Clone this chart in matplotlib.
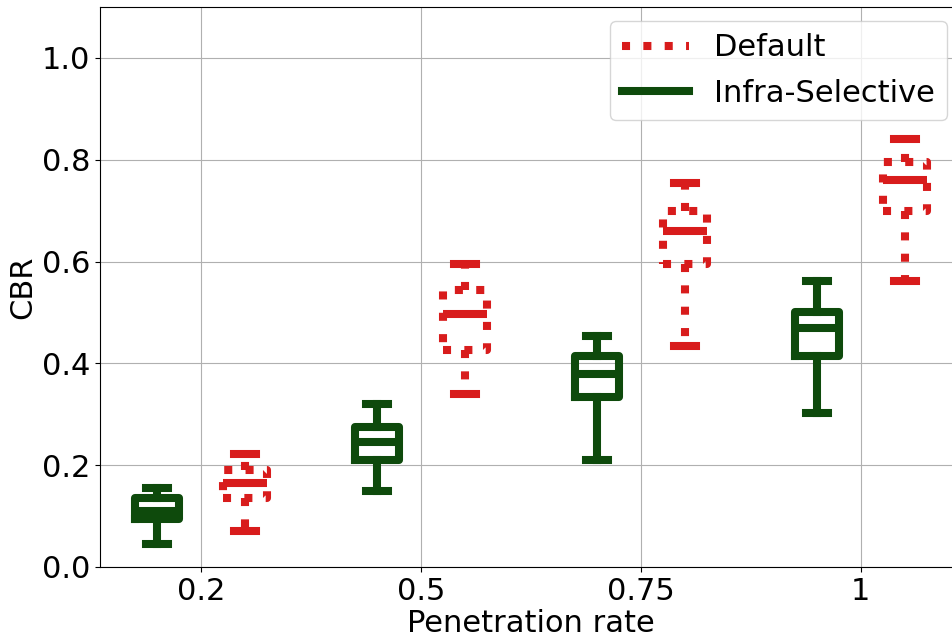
"""
CBR vs penetration rate: boxplots for Default and Infra-Selective schemes.
"""

import matplotlib

matplotlib.use("Agg")
import matplotlib.pyplot as plt
from matplotlib.lines import Line2D

# --- Data ---
rates = ["0.2", "0.5", "0.75", "1"]

# whisker low, q1, median, q3, whisker high
infra_low = [0.045, 0.150, 0.210, 0.302]
infra_q1 = [0.095, 0.210, 0.333, 0.415]
infra_med = [0.110, 0.245, 0.380, 0.470]
infra_q3 = [0.135, 0.275, 0.415, 0.500]
infra_high = [0.155, 0.320, 0.453, 0.562]

default_low = [0.070, 0.340, 0.435, 0.561]
default_q1 = [0.135, 0.427, 0.595, 0.700]
default_med = [0.165, 0.496, 0.660, 0.760]
default_q3 = [0.190, 0.545, 0.700, 0.795]
default_high = [0.222, 0.596, 0.755, 0.840]

RED = "#d81c1c"
GREEN = "#0e4a0c"
LW = 5.8
FS = 22


def make_stats(low, q1, med, q3, high):
    return [
        dict(whislo=a, q1=b, med=c, q3=d, whishi=e, fliers=[])
        for a, b, c, d, e in zip(low, q1, med, q3, high)
    ]


fig = plt.figure(figsize=(9.52, 6.39), dpi=100)
ax = fig.add_axes([100 / 952, 1 - 567 / 639, 862 / 952, 560 / 639])

pos = list(range(len(rates)))

# Infra-Selective (solid green)
green_kw = dict(color=GREEN, linewidth=LW, linestyle="-")
ax.bxp(
    make_stats(infra_low, infra_q1, infra_med, infra_q3, infra_high),
    positions=[p - 0.2 for p in pos],
    widths=0.2,
    capwidths=0.1,
    showfliers=False,
    boxprops=green_kw,
    whiskerprops=green_kw,
    capprops=green_kw,
    medianprops=green_kw,
    manage_ticks=False,
)

# Default (dotted red box/whiskers, solid caps and median)
red_dot = dict(color=RED, linewidth=LW, linestyle=":")
red_solid = dict(color=RED, linewidth=LW, linestyle="-")
ax.bxp(
    make_stats(default_low, default_q1, default_med, default_q3, default_high),
    positions=[p + 0.2 for p in pos],
    widths=0.2,
    capwidths=0.1,
    showfliers=False,
    boxprops=red_dot,
    whiskerprops=red_dot,
    capprops=red_solid,
    medianprops=red_solid,
    manage_ticks=False,
)

ax.set_xlim(-0.46, 3.46)
ax.set_ylim(0, 1.1)
ax.set_xticks(pos)
ax.set_xticklabels(rates)
ax.set_yticks([0.0, 0.2, 0.4, 0.6, 0.8, 1.0])
ax.tick_params(labelsize=FS)
ax.grid(True, color="#b0b0b0", linewidth=0.8)
ax.set_axisbelow(True)
ax.set_xlabel("Penetration rate", fontsize=FS, labelpad=2)
ax.set_ylabel("CBR", fontsize=FS, labelpad=3.5)

handles = [
    Line2D([], [], color=RED, linewidth=LW, linestyle=":"),
    Line2D([], [], color=GREEN, linewidth=LW, linestyle="-"),
]
ax.legend(
    handles,
    ["Default", "Infra-Selective"],
    fontsize=FS,
    loc="upper right",
    bbox_to_anchor=(947 / 952, 1 - 21 / 639),
    bbox_transform=fig.transFigure,
    borderaxespad=0,
    handlelength=2.2,
    labelspacing=0.55,
)

fig.savefig("out.png", dpi=100)
plt.close(fig)
